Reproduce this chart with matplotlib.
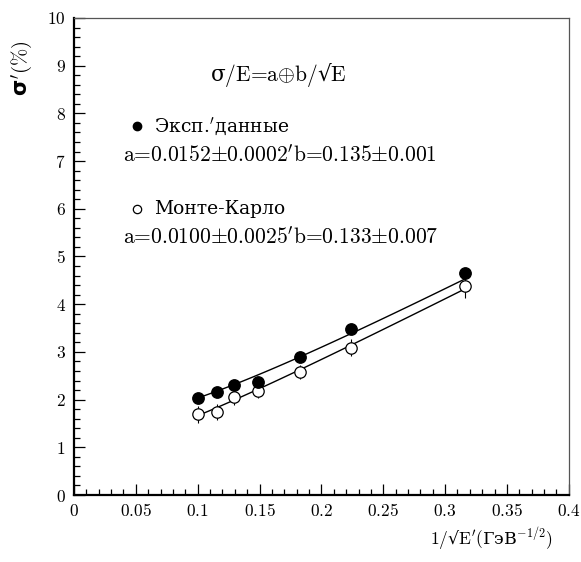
import numpy as np
import matplotlib
matplotlib.use("Agg")
import matplotlib.pyplot as plt
from matplotlib.ticker import MultipleLocator

plt.rcParams['font.family'] = ['DejaVu Serif']
plt.rcParams['mathtext.fontset'] = 'cm'

# 1/sqrt(E) points and energy resolution (%)
inv_sqrt_e = [0.1, 0.1155, 0.129, 0.149, 0.1826, 0.2236, 0.3162]
sigma_exp = [2.04, 2.16, 2.31, 2.37, 2.89, 3.48, 4.65]
sigma_exp_err = [0.03, 0.03, 0.03, 0.03, 0.04, 0.05, 0.08]
sigma_mc = [1.69, 1.74, 2.06, 2.19, 2.58, 3.09, 4.38]
sigma_mc_err = [0.17, 0.17, 0.17, 0.15, 0.15, 0.18, 0.25]

# fit parameters sigma/E = a (+) b/sqrt(E)
fit_exp = (0.0152, 0.135)
fit_mc = (0.0100, 0.133)

x_ticks = ['0', '0.05', '0.1', '0.15', '0.2', '0.25', '0.3', '0.35', '0.4']
y_ticks = [str(i) for i in range(11)]

EQ = r"\hspace{-0.2}=\hspace{-0.2}"
label_formula = r"σ$\mathrm{/E}" + EQ + r"\mathrm{a}{\oplus}\mathrm{b/}$√$\mathrm{E}$"
label_exp = r"Эксп.$^{\prime}$данные"
label_exp_fit = (r"$\mathrm{a}" + EQ + r"\mathrm{0.0152}{\pm}\mathrm{0.0002}{}^{\prime}"
                 r"\mathrm{b}" + EQ + r"\mathrm{0.135}{\pm}\mathrm{0.001}$")
label_mc = "Монте-Карло"
label_mc_fit = (r"$\mathrm{a}" + EQ + r"\mathrm{0.0100}{\pm}\mathrm{0.0025}{}^{\prime}"
                r"\mathrm{b}" + EQ + r"\mathrm{0.133}{\pm}\mathrm{0.007}$")
xlabel = r"$\mathrm{1/}$√$\mathrm{E}^{\prime}($ГэВ$^{\mathrm{-1/2}})$"
ylabel = r"σ$^{\prime}(\%)$"

fig = plt.figure(figsize=(5.81, 5.62), dpi=100)
ax = fig.add_axes([0.1274, 0.1192, 0.8516, 0.8488])

ax.set_xlim(0, 0.4)
ax.set_ylim(0, 10)

xf = np.linspace(min(inv_sqrt_e), max(inv_sqrt_e), 100)
for a, b in (fit_exp, fit_mc):
    ax.plot(xf, 100 * np.sqrt(a**2 + (b * xf)**2), color='black', lw=1.0, zorder=2)

ax.errorbar(inv_sqrt_e, sigma_mc, yerr=sigma_mc_err, fmt='o', ms=8.2,
            mfc='white', mec='black', mew=0.9, ecolor='black', elinewidth=0.8,
            capsize=0, zorder=3)
ax.errorbar(inv_sqrt_e, sigma_exp, yerr=sigma_exp_err, fmt='o', ms=8.2,
            mfc='black', mec='black', ecolor='black', elinewidth=0.8,
            capsize=0, zorder=4)

fs = 15.5
fs_cyr = 13.5
ax.text(0.110, 8.81, label_formula, fontsize=fs, va='center', ha='left')
ax.plot([0.051], [7.74], 'o', ms=6, color='black')
ax.text(0.065, 7.74, label_exp, fontsize=fs_cyr, va='center')
ax.text(0.0396, 7.11, label_exp_fit, fontsize=fs, va='center')
ax.plot([0.051], [6.0], 'o', ms=6, mfc='white', mec='black', mew=0.9)
ax.text(0.065, 6.0, label_mc, fontsize=fs_cyr, va='center')
ax.text(0.0396, 5.38, label_mc_fit, fontsize=fs, va='center')

ax.xaxis.set_minor_locator(MultipleLocator(0.01))
ax.yaxis.set_minor_locator(MultipleLocator(0.2))
ax.tick_params(which='both', direction='in', top=False, right=False,
               labelsize=12.5, width=0.9)
ax.tick_params(which='major', length=8, pad=6)
ax.tick_params(which='minor', length=4)
ax.set_xticks(np.arange(len(x_ticks)) * 0.05)
ax.set_xticklabels(['$' + t + '$' for t in x_ticks])
ax.set_yticks(range(len(y_ticks)))
ax.set_yticklabels(['$' + t + '$' for t in y_ticks])

for side in ('left', 'bottom'):
    ax.spines[side].set_linewidth(1.6)
for side in ('top', 'right'):
    ax.spines[side].set_linewidth(0.9)
    ax.spines[side].set_color('#555555')

fig.text(0.952, 1 - 553 / 562, xlabel, fontsize=12.5, ha='right', va='bottom')
fig.text(0.016, 1 - 40 / 562, ylabel, fontsize=15, rotation=90, ha='left', va='top',
         family='DejaVu Sans', weight='bold')

fig.savefig('out.png', dpi=100)
